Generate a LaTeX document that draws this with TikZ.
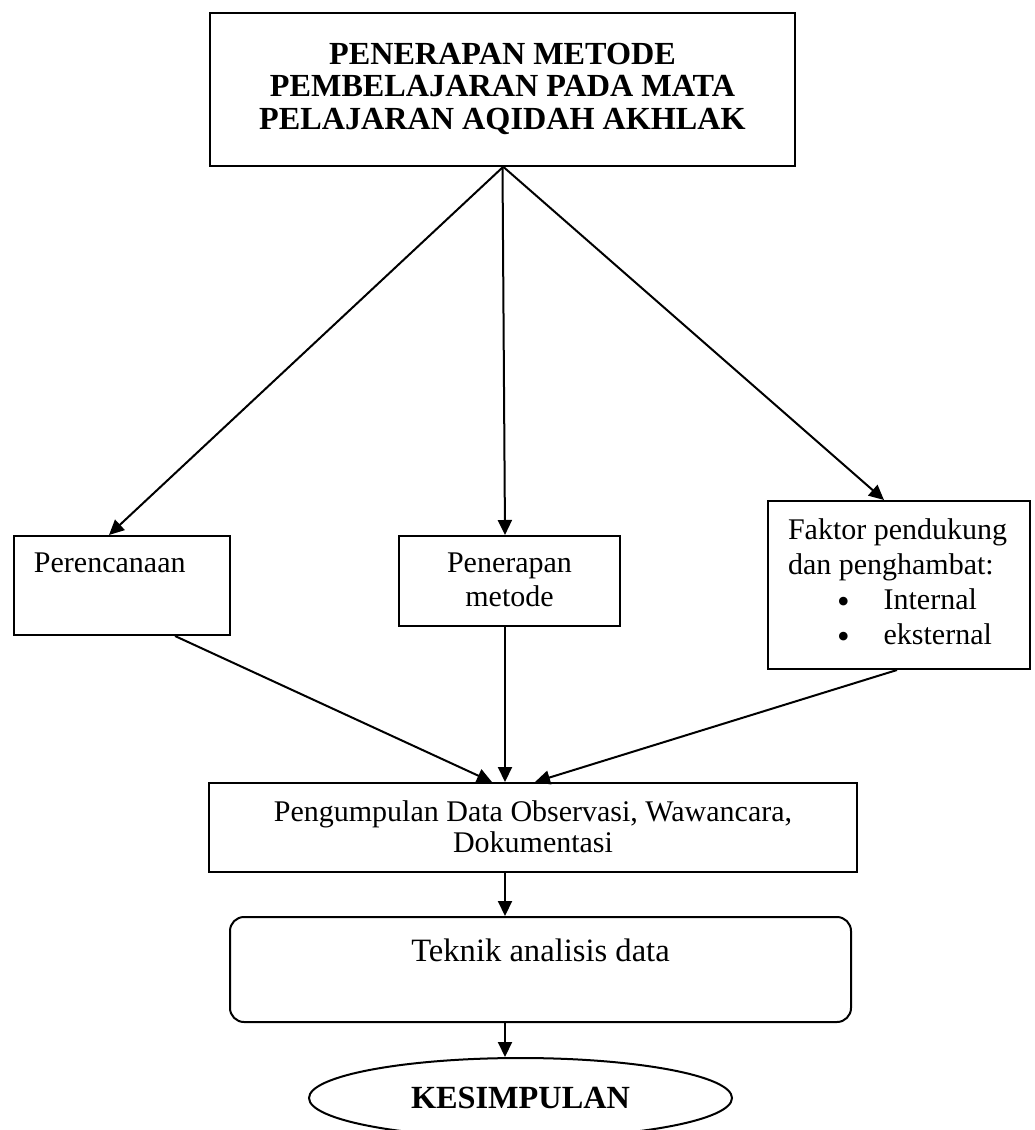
\documentclass[tikz,border=0pt]{standalone}
\usepackage{fontspec}
\setmainfont{Liberation Serif}
\usetikzlibrary{arrows.meta,shapes.geometric}
\begin{document}
\begin{tikzpicture}[x=1pt,y=-1pt,
    box/.style={draw,line width=2pt,inner sep=0pt},
    every node/.style={font=\fontsize{30}{35}\selectfont}]
  \useasboundingbox (0,0) rectangle (1034,1130);
  \draw
    (502.5,89.5) node[box] (judul){\parbox[c][153pt][t]{585pt}{\centering\vspace*{30pt}%
      \fontsize{32.2}{32.5}\selectfont\bfseries PENERAPAN METODE\\ PEMBELAJARAN PADA MATA\\ PELAJARAN AQIDAH AKHLAK}}
    (122,585.5) node[box] (rencana){\parbox[c][99pt][t]{216pt}{\vspace*{17pt}\hspace*{20pt}Perencanaan}}
    (509.5,581) node[box] (penerapan){\parbox[c][90pt][t]{221pt}{\centering\vspace*{17pt}%
      \fontsize{30}{34}\selectfont Penerapan\\ metode}}
    (899,585) node[box] (faktor){\parbox[c][168pt][t]{262pt}{\raggedright\leftskip=20pt\vspace*{18pt}%
      Faktor pendukung\\ dan penghambat:\\
      \hspace*{49pt}\raisebox{-4pt}{\fontsize{36}{35}\selectfont\textbullet}\hspace{34pt}Internal\\
      \hspace*{49pt}\raisebox{-4pt}{\fontsize{36}{35}\selectfont\textbullet}\hspace{34pt}eksternal}}
    (533,827.5) node[box] (data){\parbox[c][89pt][t]{648pt}{\centering\vspace*{18pt}%
      \fontsize{30}{31}\selectfont Pengumpulan Data Observasi, Wawancara,\\ Dokumentasi}}
    (540.5,969.5) node[box,rounded corners=14pt] (analisis){\parbox[c][105pt][t]{621pt}{\centering\vspace*{22pt}%
      \fontsize{32.6}{38}\selectfont Teknik analisis data}}
    (520.5,1098) node[box,ellipse,minimum width=423pt,minimum height=80pt,
      font=\fontsize{32.3}{38}\selectfont\bfseries] (simpulan){KESIMPULAN};
  \begin{scope}[line width=2pt,-{Triangle[length=15pt,width=14pt]}]
    \draw ([xshift=0.5pt]judul.south) to ([xshift=-13pt]rencana.north);
    \draw (judul.south) to ([xshift=-4.5pt]penerapan.north);
    \draw ([xshift=1pt]judul.south) to ([xshift=-15pt]faktor.north);
    \draw ([xshift=53pt]rencana.south) to ([xshift=-41pt]data.north);
    \draw ([xshift=-4.5pt]penerapan.south) to ([xshift=-28pt]data.north);
    \draw ([xshift=-2pt]faktor.south) to ([xshift=2pt]data.north);
    \draw ([xshift=-28pt]data.south) to ([xshift=-35.5pt]analisis.north);
    \draw ([xshift=-35.5pt]analisis.south) to ([xshift=-15.5pt]simpulan.north);
  \end{scope}
\end{tikzpicture}
\end{document}
